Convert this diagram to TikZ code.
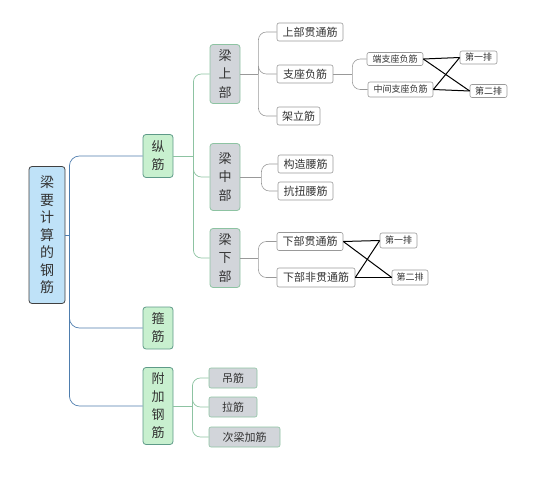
\documentclass[tikz,border=0pt]{standalone}
\usepackage{fontspec}
\setmainfont{Noto Sans CJK SC}
\usetikzlibrary{calc}
\definecolor{rebarRoot}{HTML}{BFE2F8}
\definecolor{rebarGreen}{HTML}{C8F0CF}
\definecolor{rebarGrey}{HTML}{D2D5DA}
\definecolor{rebarBlue}{HTML}{4E7DAE}
\definecolor{rebarLine}{HTML}{8DC3A2}
\definecolor{rebarEdge}{HTML}{5E9A88}
\definecolor{rebarText}{HTML}{333333}

\begin{document}
\begin{tikzpicture}[x=1pt,y=-1pt,text=rebarText,
   rootbox/.style={draw=black!75,fill=rebarRoot,line width=0.8pt,rounded corners=3pt,
                   inner sep=0pt,minimum width=36pt,align=center,
                   font=\fontsize{14}{17.5}\selectfont},
   mainbox/.style={draw=rebarEdge,fill=rebarGreen,line width=0.8pt,rounded corners=3pt,
                   inner sep=0pt,minimum width=30pt,align=center,
                   font=\fontsize{13}{18}\selectfont},
   partbox/.style={draw=rebarLine,fill=rebarGrey,line width=0.8pt,rounded corners=3pt,
                   inner sep=0pt,minimum width=30pt,align=center,
                   font=\fontsize{13}{18.5}\selectfont},
   leafbox/.style={draw=black!40,fill=white,line width=0.6pt,rounded corners=2pt,
                   inner sep=0pt,minimum height=18pt,font=\fontsize{11}{13}\selectfont},
   tinybox/.style={leafbox,minimum height=13pt,font=\fontsize{9}{11}\selectfont},
   greybox/.style={draw=rebarLine,fill=rebarGrey,line width=0.6pt,rounded corners=2pt,
                   inner sep=0pt,minimum height=20pt,font=\fontsize{11}{13}\selectfont},
   rootline/.style={draw=rebarBlue,line width=0.7pt,rounded corners=10pt},
   mainline/.style={draw=rebarLine,line width=0.7pt,rounded corners=8pt},
   leafline/.style={draw=black!40,line width=0.6pt,rounded corners=8pt},
   crossline/.style={draw=black,line width=1pt}]
  \useasboundingbox (0,0) rectangle (546,478);

  % root and first level
  \node[rootbox,minimum height=137pt] (root) at (47,235) {梁\\要\\计\\算\\的\\钢\\筋};
  \node[mainbox,minimum height=43pt] (zj) at (158,156) {纵\\筋};
  \node[mainbox,minimum height=42pt] (gj) at (158,328) {箍\\筋};
  \node[mainbox,minimum height=77pt] (fj) at (158,406) {附\\加\\钢\\筋};

  % parts of the beam
  \node[partbox,minimum height=59pt] (top) at (225,74)  {梁\\上\\部};
  \node[partbox,minimum height=67pt] (mid) at (225,177) {梁\\中\\部};
  \node[partbox,minimum height=59pt] (bot) at (225,258) {梁\\下\\部};

  \node[leafbox,minimum width=66pt] (tthru) at (310,32)    {上部贯通筋};
  \node[leafbox,minimum width=56pt] (tneg)  at (305,74)    {支座负筋};
  \node[leafbox,minimum width=43pt] (tjl)   at (298.5,116) {架立筋};
  \node[leafbox,minimum width=55pt] (mgz)   at (305.5,164) {构造腰筋};
  \node[leafbox,minimum width=55pt] (mkn)   at (305.5,191) {抗扭腰筋};
  \node[leafbox,minimum width=66pt] (bthru) at (310,241.5) {下部贯通筋};
  \node[leafbox,minimum width=78pt,minimum height=19pt] (bpart) at (316,277.5) {下部非贯通筋};

  \node[tinybox,minimum width=56pt] (nend) at (395,59)     {端支座负筋};
  \node[tinybox,minimum width=65pt,minimum height=15pt] (nmid) at (400.5,89.5) {中间支座负筋};
  \node[tinybox,minimum width=37pt] (tr1)  at (478.5,57.5) {第一排};
  \node[tinybox,minimum width=37pt] (tr2)  at (488.5,91)   {第二排};
  \node[tinybox,minimum width=37pt,minimum height=15pt] (br1) at (398.5,240.5) {第一排};
  \node[tinybox,minimum width=36pt,minimum height=15pt] (br2) at (410,277.5)   {第二排};

  % additional bars
  \node[greybox,minimum width=48pt] (dj)  at (233,378)   {吊筋};
  \node[greybox,minimum width=48pt] (lj)  at (233,407)   {拉筋};
  \node[greybox,minimum width=71pt] (cjj) at (244.5,437) {次梁加筋};

  % connectors
  \coordinate (jr) at ($(root.east)+(4,0)$);
  \draw[rootline] (root.east) -- (jr);
  \foreach \c in {zj,gj,fj} \draw[rootline] (jr) |- (\c.west);

  \coordinate (jz) at ($(zj.east)+(20,0)$);
  \draw[mainline] (zj.east) -- (jz);
  \foreach \c in {top,mid,bot} \draw[mainline] (jz) |- (\c.west);

  \coordinate (jf) at ($(fj.east)+(19,0)$);
  \draw[mainline] (fj.east) -- (jf);
  \foreach \c in {dj,lj,cjj} \draw[mainline] (jf) |- (\c.west);

  \coordinate (jt) at ($(top.east)+(18,0)$);
  \draw[leafline] (top.east) -- (jt);
  \foreach \c in {tthru,tneg,tjl} \draw[leafline] (jt) |- (\c.west);

  \coordinate (jm) at ($(mid.east)+(21,0)$);
  \draw[leafline] (mid.east) -- (jm);
  \foreach \c in {mgz,mkn} \draw[leafline] (jm) |- (\c.west);

  \coordinate (jb) at ($(bot.east)+(18,0)$);
  \draw[leafline] (bot.east) -- (jb);
  \foreach \c in {bthru,bpart} \draw[leafline] (jb) |- (\c.west);

  \coordinate (jn) at ($(tneg.east)+(19,0)$);
  \draw[leafline] (tneg.east) -- (jn);
  \foreach \c in {nend,nmid} \draw[leafline] (jn) |- (\c.west);

  % rows
  \foreach \a in {nend,nmid} \foreach \b in {tr1,tr2} \draw[crossline] (\a.east) -- (\b.west);
  \foreach \a in {bthru,bpart} \foreach \b in {br1,br2} \draw[crossline] (\a.east) -- (\b.west);
\end{tikzpicture}
\end{document}
